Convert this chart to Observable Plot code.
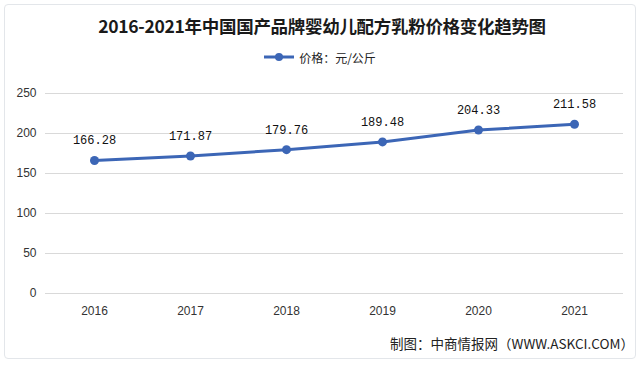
<!DOCTYPE html>
<html>
<head>
<meta charset="utf-8">
<script src="https://cdn.jsdelivr.net/npm/d3@7"></script>
<script src="https://cdn.jsdelivr.net/npm/@observablehq/plot@0.6"></script>
<style>
  html, body { margin: 0; padding: 0; background: #fff; }
  #card { position: relative; width: 640px; height: 367px; overflow: hidden; background: #fff; font-family: "Noto Sans CJK SC", "Liberation Sans", sans-serif; }
  #frame { position: absolute; left: 4px; top: 4px; right: 4px; bottom: 8px; border: 1px solid #e3e6ea; border-radius: 4px; }
  #title { position: absolute; left: 0; width: 644px; top: 13px; line-height: 26px; text-align: center; font-size: 17.5px; font-weight: bold; color: #1a1a1a; letter-spacing: -0.3px; }
  #legend { position: absolute; left: 0; width: 640px; top: 47px; height: 20px; display: flex; justify-content: center; align-items: center; font-size: 12px; color: #222; }
  #legend svg { margin-right: 5px; }
  #chart { position: absolute; left: 0; top: 70px; }
  #caption { position: absolute; right: 6px; top: 333px; line-height: 20px; font-size: 13.5px; color: #222; }
</style>
</head>
<body>
<div id="card">
  <div id="frame"></div>
  <div id="title"></div>
  <div id="legend"></div>
  <div id="chart"></div>
  <div id="caption"></div>
</div>
<script>
const titleText = "2016-2021年中国国产品牌婴幼儿配方乳粉价格变化趋势图";
const seriesName = "价格：元/公斤";
const captionText = "制图：中商情报网（WWW.ASKCI.COM）";
const years = ["2016", "2017", "2018", "2019", "2020", "2021"];
const prices = [166.28, 171.87, 179.76, 189.48, 204.33, 211.58];
const yTicks = [0, 50, 100, 150, 200, 250];
const lineColor = "#3c66b6";

const data = years.map((y, i) => ({year: y, value: prices[i]}));

document.getElementById("title").textContent = titleText;
document.getElementById("caption").textContent = captionText;

const leg = document.getElementById("legend");
leg.innerHTML = `<svg width="30" height="12"><line x1="0" y1="6" x2="30" y2="6" stroke="${lineColor}" stroke-width="3"/><circle cx="15" cy="6" r="4" fill="${lineColor}"/></svg><span>${seriesName}</span>`;

const chart = Plot.plot({
  width: 640,
  height: 260,
  marginLeft: 45,
  marginRight: 17,
  marginTop: 23,
  marginBottom: 37,
  style: {fontFamily: "Liberation Sans, Arial, sans-serif", fontSize: "12px", color: "#333", background: "transparent"},
  x: {type: "band", domain: years, padding: 0, label: null, tickSize: 0, tickPadding: 13},
  y: {domain: [0, 250], ticks: yTicks, label: null, tickSize: 0, tickPadding: 9},
  marks: [
    Plot.ruleY(yTicks, {stroke: "#d9d9d9", strokeWidth: 1}),
    Plot.line(data, {x: "year", y: "value", stroke: lineColor, strokeWidth: 3}),
    Plot.dot(data, {x: "year", y: "value", r: 4.5, fill: lineColor}),
    Plot.text(data, {x: "year", y: "value", text: d => d.value.toFixed(2), dy: -20, fontFamily: "Liberation Mono, DejaVu Sans Mono, monospace", fontSize: 12, fill: "#111"})
  ]
});
document.getElementById("chart").appendChild(chart);
</script>
</body>
</html>
